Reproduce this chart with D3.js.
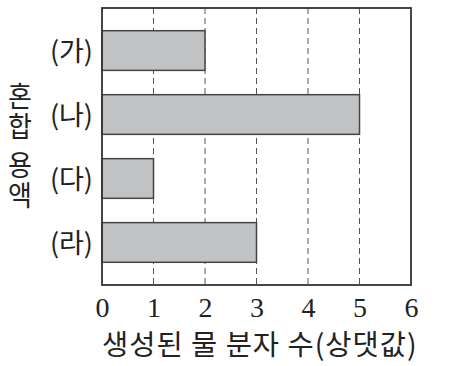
<!DOCTYPE html>
<html><head><meta charset="utf-8">
<script src="https://cdn.jsdelivr.net/npm/d3@7"></script>
<style>body{margin:0;background:#fff}svg{display:block}</style>
</head><body>
<script>
const categories = ["(가)", "(나)", "(다)", "(라)"];
const values = [2, 5, 1, 3];
const xTicks = [0, 1, 2, 3, 4, 5, 6];
const gridTicks = [1, 2, 3, 4, 5];
const xTitle = "생성된 물 분자 수(상댓값)";
const yTitleWords = ["혼합", "용액"];

const W = 462, H = 366;
const m = {left: 102, right: 411, top: 8, bottom: 285};
const svg = d3.select("body").append("svg").attr("width", W).attr("height", H);

const x = d3.scaleLinear().domain([0, 6]).range([m.left, m.right]);
const y = d3.scaleBand().domain(categories).range([m.top, m.bottom]).paddingInner(0.38).paddingOuter(0.355);

// gridlines
svg.append("g").selectAll("line").data(gridTicks).join("line")
  .attr("x1", d => x(d)).attr("x2", d => x(d))
  .attr("y1", m.top).attr("y2", m.bottom)
  .attr("stroke", "#555").attr("stroke-width", 1).attr("stroke-dasharray", "6,4");

// bars
svg.append("g").selectAll("rect").data(values).join("rect")
  .attr("x", x(0)).attr("y", (d, i) => y(categories[i]))
  .attr("width", d => x(d) - x(0)).attr("height", y.bandwidth())
  .attr("fill", "#c1c2c4").attr("stroke", "#444").attr("stroke-width", 1.5);

// frame
svg.append("rect").attr("x", m.left).attr("y", m.top)
  .attr("width", m.right - m.left).attr("height", m.bottom - m.top)
  .attr("fill", "none").attr("stroke", "#333").attr("stroke-width", 1.8);

// x axis tick labels
const xAxis = d3.axisBottom(x).tickValues(xTicks).tickSize(0).tickPadding(0).tickFormat(d3.format("d"));
const gx = svg.append("g").attr("transform", `translate(0,${m.bottom})`).call(xAxis);
gx.select(".domain").remove();
gx.selectAll("text").attr("y", 22).attr("dy", "0.35em")
  .attr("font-family", "'Liberation Serif', 'DejaVu Serif', serif")
  .attr("font-size", 28).attr("fill", "#222");

// y axis category labels
const yAxis = d3.axisLeft(y).tickSize(0).tickPadding(9);
const gy = svg.append("g").attr("transform", `translate(${m.left},0)`).call(yAxis);
gy.select(".domain").remove();
gy.selectAll("text").attr("dy", "0.38em")
  .attr("font-family", "'Noto Sans CJK KR', 'Noto Sans', sans-serif")
  .attr("font-size", 27).attr("fill", "#222");

// x title
svg.append("text").attr("x", 102).attr("y", 345).attr("dy", "0.36em")
  .attr("font-family", "'Noto Sans CJK KR', sans-serif").attr("font-size", 28.5)
  .attr("letter-spacing", 1)
  .attr("fill", "#222").text(xTitle);

// y title: vertical, upright glyphs, one text per word
const wordCenter = [112, 181];
svg.append("g").selectAll("text").data(yTitleWords).join("text")
  .attr("transform", (d, i) => `translate(20,${wordCenter[i]}) scale(1,1.08)`)
  .attr("x", 0).attr("y", 0)
  .attr("writing-mode", "vertical-rl")
  .style("text-orientation", "upright")
  .attr("text-anchor", "middle")
  .attr("letter-spacing", 1.8)
  .attr("font-family", "'Noto Sans CJK KR', sans-serif").attr("font-size", 26)
  .attr("fill", "#222").text(d => d);
</script>
</body></html>
